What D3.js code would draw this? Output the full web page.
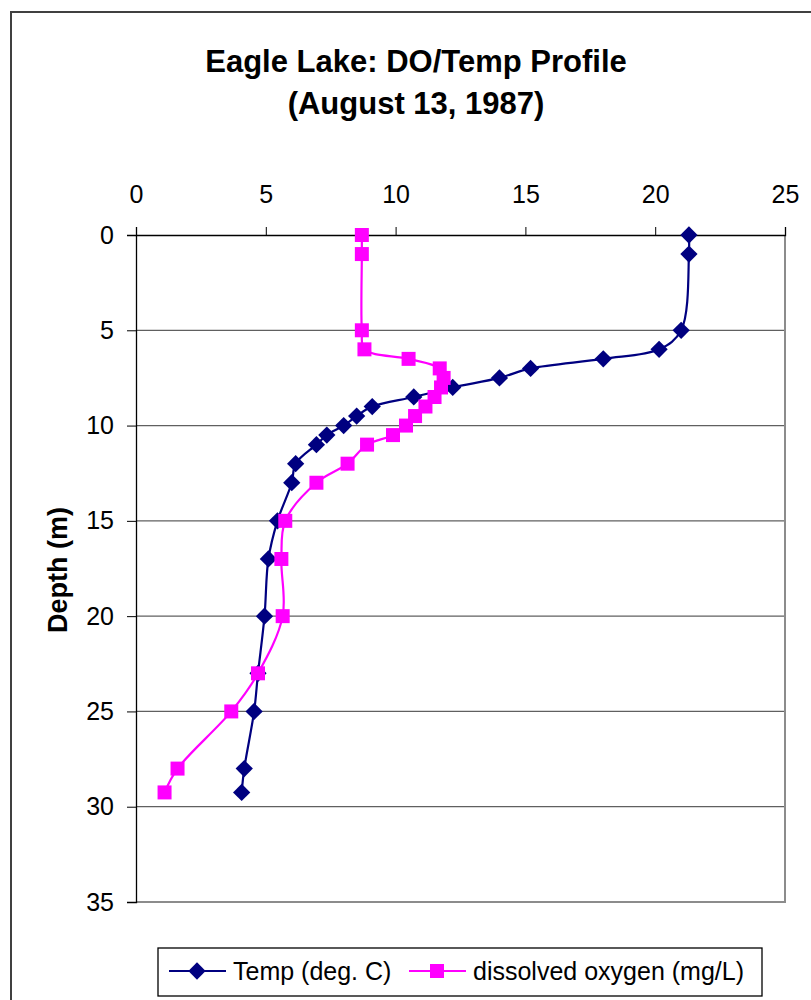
<!DOCTYPE html>
<html>
<head>
<meta charset="utf-8">
<script src="https://cdn.jsdelivr.net/npm/d3@7"></script>
<style>
  html, body { margin: 0; padding: 0; background: #fff; }
  text { font-family: "Liberation Sans", Arial, sans-serif; }
</style>
</head>
<body>
<svg id="chart" width="811" height="1000"></svg>
<script>
// depth (m) of each sample, top to bottom
const depths = [0, 1, 5, 6, 6.5, 7, 7.5, 8, 8.5, 9, 9.5, 10, 10.5, 11, 12, 13, 15, 17, 20, 23, 25, 28, 29.25];
// Temp (deg. C)
const tempValues = [21.3, 21.3, 21.0, 20.15, 18.0, 15.2, 14.0, 12.2, 10.7, 9.1, 8.5, 8.0, 7.35, 6.95, 6.15, 6.0, 5.45, 5.1, 4.95, 4.7, 4.55, 4.17, 4.07];
// dissolved oxygen (mg/L)
const doValues = [8.7, 8.7, 8.7, 8.8, 10.5, 11.7, 11.85, 11.75, 11.5, 11.15, 10.75, 10.4, 9.9, 8.9, 8.15, 6.95, 5.75, 5.6, 5.65, 4.7, 3.67, 1.6, 1.1];

const xTicks = [0, 5, 10, 15, 20, 25];
const yTicks = [0, 5, 10, 15, 20, 25, 30, 35];

const seriesNames = ["Temp (deg. C)", "dissolved oxygen (mg/L)"];
const seriesColors = ["#000080", "#FF00FF"];

const svg = d3.select("#chart");

// outer chart frame (right/bottom edges are cut off in the picture)
svg.append("rect")
  .attr("x", 11).attr("y", 12)
  .attr("width", 1000).attr("height", 1000)
  .attr("fill", "none")
  .attr("stroke", "#404040")
  .attr("stroke-width", 2);

const plot = { left: 136, right: 785, top: 235, bottom: 902 };

const x = d3.scaleLinear().domain([0, 25]).range([plot.left, plot.right]);
const y = d3.scaleLinear().domain([0, 35]).range([plot.top, plot.bottom]);

// title
const title = svg.append("text")
  .attr("x", 416).attr("text-anchor", "middle")
  .attr("font-weight", "bold").attr("font-size", 31);
title.append("tspan").attr("x", 416).attr("y", 72).text("Eagle Lake: DO/Temp Profile");
title.append("tspan").attr("x", 416).attr("y", 114).text("(August 13, 1987)");

// horizontal gridlines
svg.append("g")
  .selectAll("line")
  .data(yTicks.filter(d => d > 0 && d < 35))
  .join("line")
  .attr("x1", plot.left).attr("x2", plot.right)
  .attr("y1", d => y(d)).attr("y2", d => y(d))
  .attr("stroke", "#606060")
  .attr("stroke-width", 1.3);

// plot border right + bottom
svg.append("path")
  .attr("d", `M${plot.right},${plot.top}V${plot.bottom}H${plot.left}`)
  .attr("fill", "none")
  .attr("stroke", "#8c8c8c")
  .attr("stroke-width", 2);

// top value axis
const xAxis = d3.axisTop(x).tickValues(xTicks).tickSize(8).tickPadding(24);
svg.append("g")
  .attr("transform", `translate(0,${plot.top})`)
  .call(xAxis)
  .call(g => g.select(".domain").attr("stroke", "#000").attr("stroke-width", 1.3))
  .call(g => g.selectAll(".tick line").attr("stroke", "#000"))
  .call(g => g.selectAll(".tick text")
    .attr("font-size", 25).attr("fill", "#000")
    .attr("font-family", "Liberation Sans, Arial, sans-serif"));

// left depth axis
const yAxis = d3.axisLeft(y).tickValues(yTicks).tickSize(9).tickPadding(13);
svg.append("g")
  .attr("transform", `translate(${plot.left},0)`)
  .call(yAxis)
  .call(g => g.select(".domain").attr("stroke", "#000").attr("stroke-width", 1.3))
  .call(g => g.selectAll(".tick line").attr("stroke", "#000"))
  .call(g => g.selectAll(".tick text")
    .attr("font-size", 25).attr("fill", "#000")
    .attr("font-family", "Liberation Sans, Arial, sans-serif"));

// axis title
svg.append("text")
  .attr("transform", "translate(67,570) rotate(-90)")
  .attr("text-anchor", "middle")
  .attr("font-weight", "bold").attr("font-size", 27)
  .text("Depth (m)");

// series data
const series = [tempValues, doValues].map((vals, i) => ({
  name: seriesNames[i],
  color: seriesColors[i],
  points: vals.map((v, j) => ({ value: v, depth: depths[j] }))
}));

const line = d3.line()
  .x(d => x(d.value))
  .y(d => y(d.depth))
  .curve(d3.curveCatmullRom.alpha(0.5));

const diamond = d3.symbol().type(d3.symbolDiamond2).size(190)();
const square = d3.symbol().type(d3.symbolSquare).size(196)();
const markerPaths = [diamond, square];

series.forEach((s, i) => {
  const g = svg.append("g");
  g.append("path")
    .attr("d", line(s.points))
    .attr("fill", "none")
    .attr("stroke", s.color)
    .attr("stroke-width", 2.2);
  g.selectAll("path.marker")
    .data(s.points)
    .join("path")
    .attr("class", "marker")
    .attr("d", markerPaths[i])
    .attr("transform", d => `translate(${x(d.value)},${y(d.depth)})`)
    .attr("fill", s.color);
});

// legend
const legend = svg.append("g");
legend.append("rect")
  .attr("x", 158).attr("y", 948)
  .attr("width", 604).attr("height", 48)
  .attr("fill", "#fff").attr("stroke", "#000").attr("stroke-width", 1.3);

const legendItems = [
  { x0: 169, x1: 226, mx: 197, tx: 233 },
  { x0: 409, x1: 466, mx: 437, tx: 473 }
];
legendItems.forEach((it, i) => {
  legend.append("line")
    .attr("x1", it.x0).attr("x2", it.x1)
    .attr("y1", 971).attr("y2", 971)
    .attr("stroke", seriesColors[i]).attr("stroke-width", 2.2);
  legend.append("path")
    .attr("d", markerPaths[i])
    .attr("transform", `translate(${it.mx},971)`)
    .attr("fill", seriesColors[i]);
  legend.append("text")
    .attr("x", it.tx).attr("y", 980)
    .attr("font-size", 25)
    .text(seriesNames[i]);
});
</script>
</body>
</html>
